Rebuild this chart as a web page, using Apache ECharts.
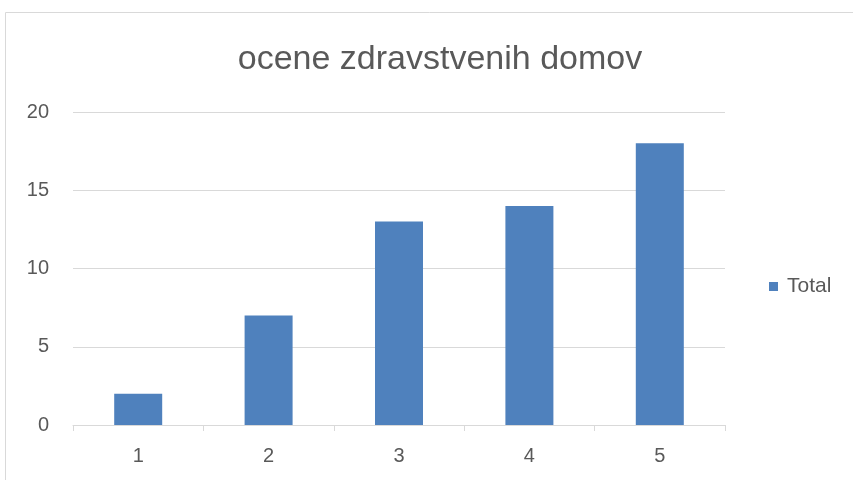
<!DOCTYPE html>
<html lang="en">
<head>
    <meta charset="utf-8">
    <title>ocene zdravstvenih domov</title>
    <script src="https://cdn.jsdelivr.net/npm/echarts@6/dist/echarts.min.js"></script>
    <style>
        html, body { margin: 0; padding: 0; background: #fff; }
        #chart { width: 853px; height: 480px; }
    </style>
</head>
<body>
    <div id="chart"></div>

    <script>
        // data
        var categories = ['1', '2', '3', '4', '5'];
        var totals = [2, 7, 13, 14, 18];
        var yTicks = [0, 5, 10, 15, 20];

        var textColor = '#595959';
        var lineColor = '#d9d9d9';

        var myChart = echarts.init(document.getElementById('chart'));
        myChart.setOption({
            animation: false,
            textStyle: { fontFamily: 'Liberation Sans' },
            graphic: [{
                type: 'rect',
                shape: { x: 5.5, y: 12.5, width: 860, height: 480 },
                style: { fill: 'none', stroke: lineColor, lineWidth: 1 }
            }],
            title: {
                text: 'ocene zdravstvenih domov',
                left: 435,
                textAlign: 'center',
                top: 38,
                textStyle: { fontSize: 34, fontWeight: 'normal', color: textColor }
            },
            legend: {
                data: ['Total'],
                left: 769,
                top: 276,
                padding: 0,
                icon: 'rect',
                itemWidth: 9,
                itemHeight: 9,
                textStyle: { fontSize: 21, color: textColor, padding: [0, 0, 0, 4] }
            },
            grid: { left: 73, right: 128, top: 112, bottom: 55 },
            xAxis: {
                type: 'category',
                data: categories,
                axisLine: { lineStyle: { color: lineColor } },
                axisTick: { show: true, length: 6, lineStyle: { color: lineColor } },
                axisLabel: { fontSize: 20, color: textColor, margin: 21 }
            },
            yAxis: {
                type: 'value',
                min: yTicks[0],
                max: yTicks[yTicks.length - 1],
                interval: 5,
                axisLine: { show: false },
                axisTick: { show: false },
                axisLabel: { fontSize: 20, color: textColor, margin: 24 },
                splitLine: { lineStyle: { color: lineColor, width: 1 } }
            },
            series: [{
                name: 'Total',
                type: 'bar',
                data: totals,
                barWidth: 48,
                itemStyle: { color: '#4f81bd' }
            }]
        });
    </script>
</body>
</html>
